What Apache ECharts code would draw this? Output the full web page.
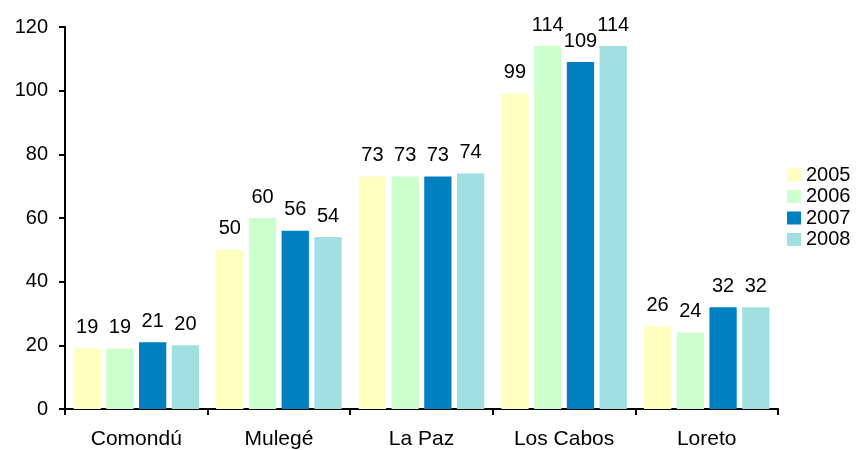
<!DOCTYPE html>
<html><head><meta charset="utf-8">
<script src="https://cdn.jsdelivr.net/npm/echarts@6/dist/echarts.min.js"></script>
<style>html,body{margin:0;padding:0;background:#fff}#c{width:857px;height:450px}</style>
</head><body><div id="c"></div>
<script>
const categories = ["Comondú", "Mulegé", "La Paz", "Los Cabos", "Loreto"];
const years = ["2005", "2006", "2007", "2008"];
const v2005 = [19, 50, 73, 99, 26];
const v2006 = [19, 60, 73, 114, 24];
const v2007 = [21, 56, 73, 109, 32];
const v2008 = [20, 54, 74, 114, 32];
const yTicks = [0, 20, 40, 60, 80, 100, 120];

const colors = ["#FFFFC0", "#CCFFCC", "#0080C0", "#A0E0E0"];
const values = [v2005, v2006, v2007, v2008];
const font = "Liberation Sans, Arial, sans-serif";
const chart = echarts.init(document.getElementById('c'));
chart.setOption({
  animation: false,
  backgroundColor: '#fff',
  textStyle: {fontFamily: font},
  grid: {left: 65, top: 27, right: 79, bottom: 41, containLabel: false},
  legend: {
    orient: 'vertical', left: 787, top: 165, padding: 0, itemWidth: 14, itemHeight: 13, itemGap: 1.5,
    icon: 'rect',
    textStyle: {fontSize: 20, color: '#000', fontFamily: font},
    data: years
  },
  xAxis: {
    type: 'category', data: categories,
    axisLine: {lineStyle: {color: '#000', width: 2}},
    axisTick: {show: true, length: 6, lineStyle: {color: '#000', width: 2}},
    axisLabel: {fontSize: 21, color: '#000', margin: 20, fontFamily: font},
    splitLine: {show: false}
  },
  yAxis: {
    type: 'value', min: yTicks[0], max: yTicks[yTicks.length-1], interval: 20,
    axisLine: {show: true, lineStyle: {color: '#000', width: 2}},
    axisTick: {show: true, length: 6, lineStyle: {color: '#000', width: 2}},
    axisLabel: {fontSize: 20, color: '#000', margin: 17, fontFamily: font},
    splitLine: {show: false}
  },
  series: years.map((y, i) => ({
    name: y, type: 'bar', data: values[i],
    barGap: '20%', barCategoryGap: '12%',
    itemStyle: {color: colors[i]},
    label: {show: true, position: 'top', distance: 11, fontSize: 20, color: '#000', fontFamily: font}
  }))
});
</script></body></html>
